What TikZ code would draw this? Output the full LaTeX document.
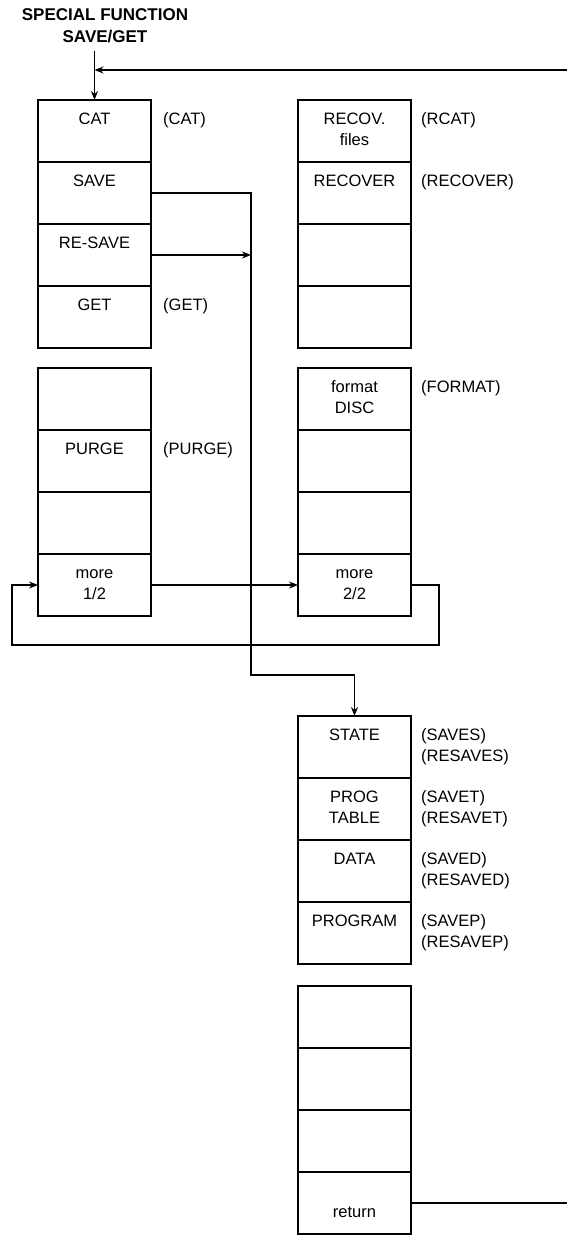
\documentclass[tikz,border=0pt]{standalone}
\usepackage{fontspec}
\setmainfont{Liberation Sans}
\usetikzlibrary{arrows.meta,positioning}

\begin{document}
\begin{tikzpicture}[x=1pt,y=-1pt,
 font=\fontsize{16.5}{21}\selectfont,
 cell/.style={draw,line width=1.1pt,outer sep=0pt,inner sep=0pt,minimum width=113pt,text height=24pt,text depth=38pt,align=center},
 two/.style={text height=45pt,text depth=17pt},
 side/.style={inner sep=0pt,text height=24pt,text depth=38pt,align=left,anchor=north west},
 ar/.style={-{Stealth[length=9pt,width=7pt]},line width=1.1pt},
 ln/.style={line width=1.1pt}]
\clip (0,0) rectangle (567,1235);
\node[font=\bfseries\fontsize{17}{22}\selectfont,align=center,inner sep=0pt] (title) at (105,26) {SPECIAL FUNCTION\\SAVE/GET};
% left column
\node[cell] (a1) at (94.5,131) {CAT};
\node[cell,below=0pt of a1] (a2) {SAVE};
\node[cell,below=0pt of a2] (a3) {RE-SAVE};
\node[cell,below=0pt of a3] (a4) {GET};
\node[cell,below=20pt of a4] (b1) {};
\node[cell,below=0pt of b1] (b2) {PURGE};
\node[cell,below=0pt of b2] (b3) {};
\node[cell,two,below=0pt of b3] (b4) {more\\1/2};
% right column
\node[cell,two,right=147pt of a1] (r1) {RECOV.\\files};
\node[cell,below=0pt of r1] (r2) {RECOVER};
\node[cell,below=0pt of r2] (r3) {};
\node[cell,below=0pt of r3] (r4) {};
\node[cell,two,below=20pt of r4] (s1) {format\\DISC};
\node[cell,below=0pt of s1] (s2) {};
\node[cell,below=0pt of s2] (s3) {};
\node[cell,two,below=0pt of s3] (s4) {more\\2/2};
% save menu
\node[cell,below=100pt of s4] (c1) {STATE};
\node[cell,two,below=0pt of c1] (c2) {PROG\\TABLE};
\node[cell,below=0pt of c2] (c3) {DATA};
\node[cell,below=0pt of c3] (c4) {PROGRAM};
\node[cell,below=22pt of c4] (d1) {};
\node[cell,below=0pt of d1] (d2) {};
\node[cell,below=0pt of d2] (d3) {};
\node[cell,two,below=0pt of d3] (d4) {return};
% keywords
\node[side] (ka1) at ([xshift=12pt]a1.north east) {(CAT)};
\node[side] (ka4) at ([xshift=12pt]a4.north east) {(GET)};
\node[side] (kb2) at ([xshift=12pt]b2.north east) {(PURGE)};
\node[side] (kr1) at ([xshift=10pt]r1.north east) {(RCAT)};
\node[side] (kr2) at ([xshift=10pt]r2.north east) {(RECOVER)};
\node[side] (ks1) at ([xshift=10pt]s1.north east) {(FORMAT)};
\node[side,two] (kc1) at ([xshift=10pt]c1.north east) {(SAVES)\\(RESAVES)};
\node[side,two] (kc2) at ([xshift=10pt]c2.north east) {(SAVET)\\(RESAVET)};
\node[side,two] (kc3) at ([xshift=10pt]c3.north east) {(SAVED)\\(RESAVED)};
\node[side,two] (kc4) at ([xshift=10pt]c4.north east) {(SAVEP)\\(RESAVEP)};
% connectors
\coordinate (tin) at ([yshift=-8pt]title.south);
\coordinate (jn) at ([yshift=30pt]a1.north);
\coordinate (edge) at (580,600);
\coordinate (drop) at (251,675);
\coordinate (lp) at (12,645);
\coordinate (rp) at (439,645);
\draw[ar] (tin -| a1.north) -- (a1.north);
\draw[ar] (d4.east) -| (edge) |- (jn);
\draw[ar] (a2.east) -| (drop) -| (c1.north);
\draw[ar] (a3.east) -- (a3.east -| drop);
\draw[ar] (b4.east) -- (s4.west);
\draw[ar] (s4.east) -| (rp) -- (lp) |- (b4.west);
\end{tikzpicture}
\end{document}
